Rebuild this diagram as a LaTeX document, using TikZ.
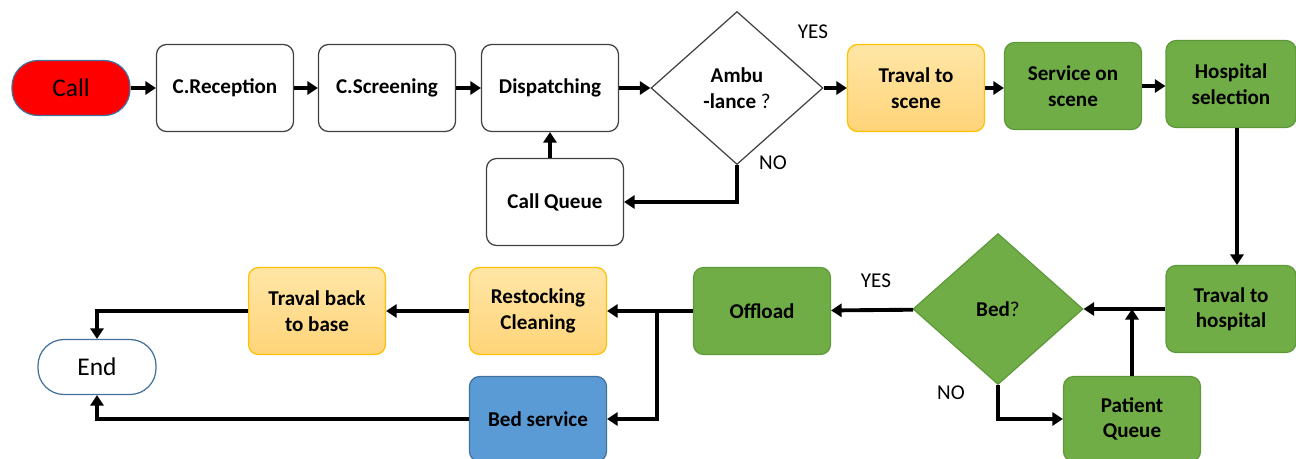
\documentclass[tikz,border=0pt]{standalone}
\usepackage{fontspec}
\setmainfont{Carlito}
\usetikzlibrary{shapes.geometric,arrows.meta}

\definecolor{boxgray}{HTML}{404040}
\definecolor{endblue}{HTML}{41719C}
\definecolor{orTop}{HTML}{FFE6A6}
\definecolor{orBot}{HTML}{FFD479}
\definecolor{orLine}{HTML}{FFC000}
\definecolor{grFill}{HTML}{70AD47}
\definecolor{grLine}{HTML}{5E9A3A}
\definecolor{blFill}{HTML}{5B9BD5}
\definecolor{blLine}{HTML}{41719C}

\tikzset{
	box/.style={rectangle, rounded corners=0.2cm, minimum width=2.74cm,
		minimum height=1.74cm, align=center, draw=boxgray, line width=0.7pt,
		fill=white, font=\fontsize{12}{14.5}\selectfont\bfseries},
	orbox/.style={box, draw=orLine, top color=orTop, bottom color=orBot},
	grbox/.style={box, draw=grLine, fill=grFill},
	blbox/.style={box, draw=blLine, fill=blFill},
	terminal/.style={rectangle, rounded corners=0.52cm, minimum width=2.36cm,
		minimum height=1.1cm, draw=endblue, line width=0.7pt,
		font=\fontsize{14.5}{16}\selectfont},
	decision/.style={diamond, inner sep=0pt, align=center, line width=0.7pt,
		font=\fontsize{12}{14.5}\selectfont\bfseries},
	answer/.style={font=\fontsize{12}{14}\selectfont},
	arr/.style={line width=2.2pt, -{Triangle[length=6pt,width=7.5pt]}}
}

\begin{document}
\begin{tikzpicture}[x=0.02cm, y=-0.02cm]
	\useasboundingbox (0,0) rectangle (1296,458);

	% upper row
	\node[terminal, fill=red] (call) at (71,88) {Call};
	\node[box] (recep) at (225,88) {C.Reception};
	\node[box] (screen) at (387,88) {C.Screening};
	\node[box] (dispatch) at (550,88) {Dispatching};
	\node[box] (cqueue) at (555,202) {Call Queue};
	\node[decision, draw=boxgray, fill=white, minimum width=3.44cm,
		minimum height=3.06cm] (ambu) at (737,88) {Ambu\\-lance {\mdseries ?}};
	\node[orbox] (tscene) at (916,88) {Traval to\\scene};
	\node[grbox] (service) at (1073,86) {Service on\\scene};
	\node[grbox, minimum width=2.6cm] (hosp) at (1231,84) {Hospital\\selection};

	% lower row
	\node[grbox, minimum width=2.6cm] (thosp) at (1231,309) {Traval to\\hospital};
	\node[decision, draw=grLine, fill=grFill, minimum width=3.4cm,
		minimum height=3.02cm] (bed) at (998,309) {Bed{\mdseries ?}};
	\node[grbox, minimum height=1.7cm] (pqueue) at (1132,419) {Patient\\Queue};
	\node[grbox] (offload) at (762,311) {Offload};
	\node[orbox] (restock) at (538,311) {Restocking\\Cleaning};
	\node[blbox, minimum height=1.7cm] (bedsrv) at (538,419) {Bed service};
	\node[orbox] (tback) at (317,311) {Traval back\\to base};
	\node[terminal, fill=white] (end) at (97,367) {End};

	\coordinate (split) at (657,311);

	\node[answer] at (813,32) {YES};
	\node[answer] at (773,163) {NO};
	\node[answer] at (876,281) {YES};
	\node[answer] at (951,393) {NO};

	% connectors
	\draw[arr] (call) -- (recep);
	\draw[arr] (recep) -- (screen);
	\draw[arr] (screen) -- (dispatch);
	\draw[arr] (dispatch) -- (ambu);
	\draw[arr] (ambu) -- (tscene);
	\draw[arr] (tscene.east) -- (tscene.east -| service.west);
	\draw[arr] (service.east) -- (service.east -| hosp.west);
	\draw[arr] (ambu.south) |- (cqueue.east);
	\draw[arr] (cqueue.north -| dispatch) -- (dispatch.south);
	\draw[arr] ([xshift=0.12cm]hosp.south) -- ([xshift=0.12cm]thosp.north);
	\draw[arr] (thosp) -- (bed);
	\draw[arr] (pqueue.north) -- (pqueue.north |- bed);
	\draw[arr] (bed.south) |- (pqueue.west);
	\draw[arr] (bed) -- (offload);
	\draw[arr] (offload) -- (restock);
	\draw[arr] (split) |- (bedsrv.east);
	\draw[arr] (restock) -- (tback);
	\draw[arr] (tback.west) -| (end.north);
	\draw[arr] (bedsrv.west) -| (end.south);
\end{tikzpicture}
\end{document}
